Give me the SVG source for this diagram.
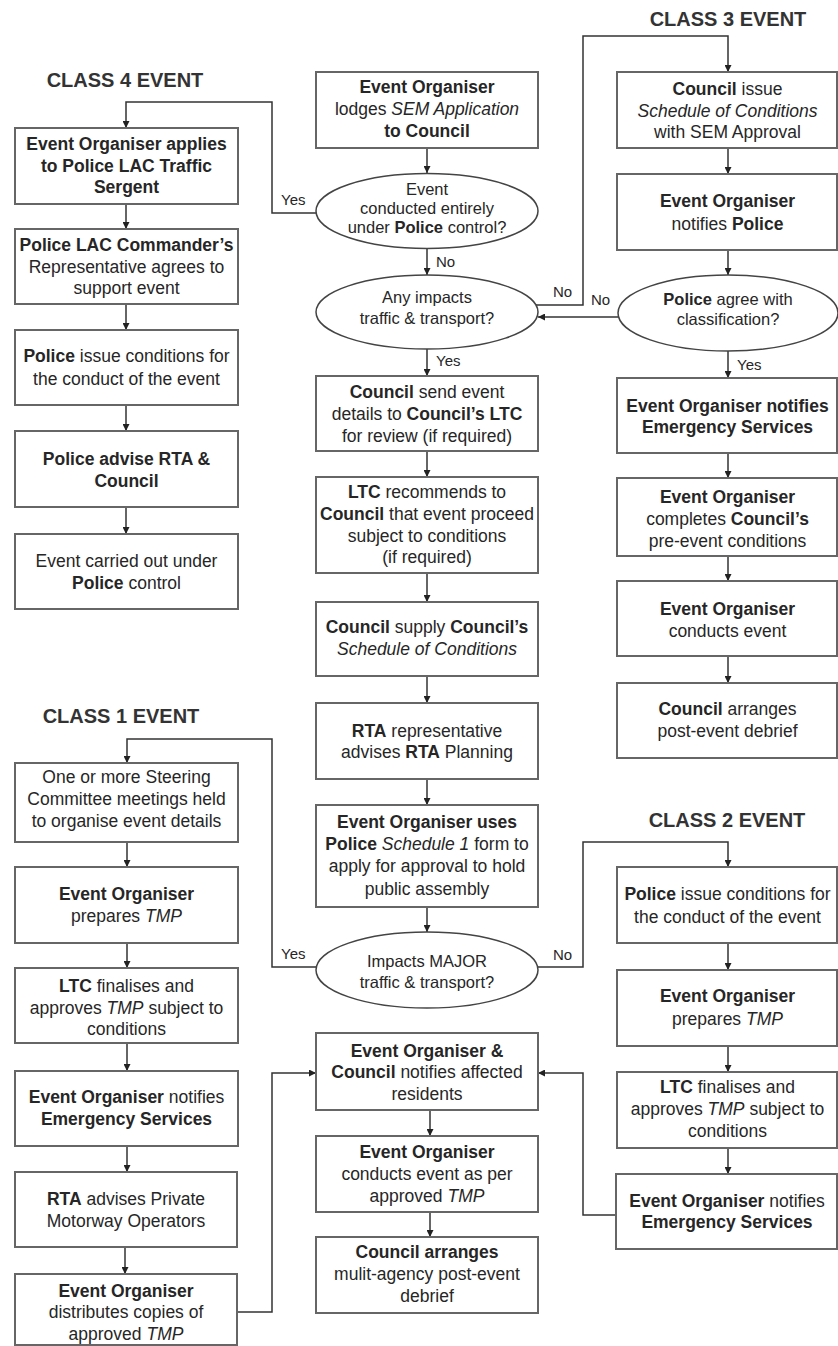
<svg xmlns="http://www.w3.org/2000/svg" width="838" height="1346" viewBox="0 0 838 1346">
<defs>
<marker id="arr" viewBox="0 0 10 10" refX="10" refY="5" markerWidth="8" markerHeight="7" markerUnits="userSpaceOnUse" orient="auto">
<path d="M0,0 L10,5 L0,10 z" fill="#222"/>
</marker>
<style>
.box{fill:#fff;stroke:#666;stroke-width:2}
.ell{fill:#fff;stroke:#444;stroke-width:1.5}
text{font-family:"Liberation Sans",Arial,sans-serif;fill:#262626}
.t{font-size:17.5px;text-anchor:middle}
.e{font-size:16.5px;text-anchor:middle}
.b{font-weight:bold}
.i{font-style:italic}
.lbl{font-size:15px}
.title{font-size:20px;font-weight:bold;text-anchor:middle;fill:#333}
.conn{fill:none;stroke:#333;stroke-width:1.5;marker-end:url(#arr)}
</style>
</defs>
<rect width="838" height="1346" fill="#fff"/>

<text class="title" x="125" y="87">CLASS 4 EVENT</text>
<text class="title" x="728" y="26">CLASS 3 EVENT</text>
<text class="title" x="121" y="723">CLASS 1 EVENT</text>
<text class="title" x="727" y="827">CLASS 2 EVENT</text>

<g id="connectors">
<path class="conn" d="M427,148 V173"/>
<path class="conn" d="M316,213 H272 V102 H126 V128"/>
<path class="conn" d="M427,248 V275"/>
<path class="conn" d="M536,305 H583 V36 H728 V72"/>
<path class="conn" d="M618,317 H538"/>
<path class="conn" d="M728,148 V174"/>
<path class="conn" d="M728,250 V275"/>
<path class="conn" d="M728,351 V378"/>
<path class="conn" d="M728,453 V478"/>
<path class="conn" d="M728,556 V581"/>
<path class="conn" d="M728,656 V683"/>
<path class="conn" d="M427,349 V376"/>
<path class="conn" d="M427,451 V477"/>
<path class="conn" d="M427,573 V602"/>
<path class="conn" d="M427,676 V703"/>
<path class="conn" d="M427,779 V805"/>
<path class="conn" d="M427,907 V932"/>
<path class="conn" d="M317,967 H272 V739 H127 V763"/>
<path class="conn" d="M537,967 H583 V842 H728 V867"/>
<path class="conn" d="M126,204 V229"/>
<path class="conn" d="M126,304 V330"/>
<path class="conn" d="M126,405 V431"/>
<path class="conn" d="M126,507 V534"/>
<path class="conn" d="M127,842 V867"/>
<path class="conn" d="M127,943 V968"/>
<path class="conn" d="M127,1043 V1071"/>
<path class="conn" d="M127,1146 V1172"/>
<path class="conn" d="M125,1247 V1274"/>
<path class="conn" d="M238,1312 H272 V1073 H316"/>
<path class="conn" d="M616,1215 H583 V1073 H538"/>
<path class="conn" d="M430,1110 V1136"/>
<path class="conn" d="M430,1212 V1237"/>
<path class="conn" d="M728,943 V970"/>
<path class="conn" d="M728,1046 V1072"/>
<path class="conn" d="M728,1148 V1174"/>
<text class="lbl" x="281" y="205">Yes</text>
<text class="lbl" x="436" y="267">No</text>
<text class="lbl" x="553" y="297">No</text>
<text class="lbl" x="591" y="305">No</text>
<text class="lbl" x="737" y="370">Yes</text>
<text class="lbl" x="436" y="366">Yes</text>
<text class="lbl" x="281" y="959">Yes</text>
<text class="lbl" x="553" y="960">No</text>
</g>

<!-- CLASS 4 -->
<g id="c4-apply"><rect class="box" x="15" y="128" width="223" height="76"/>
<text class="t b" x="126.5" y="150">Event Organiser applies</text>
<text class="t b" x="126.5" y="172">to Police LAC Traffic</text>
<text class="t b" x="126.5" y="193">Sergent</text></g>
<g id="c4-commander"><rect class="box" x="15" y="229" width="223" height="75"/>
<text class="t" x="126.5" y="251"><tspan class="b">Police LAC Commander’s</tspan></text>
<text class="t" x="126.5" y="273">Representative agrees to</text>
<text class="t" x="126.5" y="294">support event</text></g>
<g id="c4-conditions"><rect class="box" x="15" y="330" width="223" height="75"/>
<text class="t" x="126.5" y="362"><tspan class="b">Police</tspan> issue conditions for</text>
<text class="t" x="126.5" y="385">the conduct of the event</text></g>
<g id="c4-advise"><rect class="box" x="15" y="431" width="223" height="76"/>
<text class="t b" x="126.5" y="465">Police advise RTA &amp;</text>
<text class="t b" x="126.5" y="487">Council</text></g>
<g id="c4-carried"><rect class="box" x="15" y="534" width="223" height="75"/>
<text class="t" x="126.5" y="567">Event carried out under</text>
<text class="t" x="126.5" y="589"><tspan class="b">Police</tspan> control</text></g>

<!-- CENTRE -->
<g id="lodge"><rect class="box" x="316" y="72" width="222" height="76"/>
<text class="t b" x="427" y="93">Event Organiser</text>
<text class="t" x="427" y="115">lodges <tspan class="i">SEM Application</tspan></text>
<text class="t b" x="427" y="137">to Council</text></g>
<g id="q-police"><ellipse class="ell" cx="427" cy="211" rx="111" ry="37.5"/>
<text class="e" x="427" y="195">Event</text>
<text class="e" x="427" y="214">conducted entirely</text>
<text class="e" x="427" y="233">under <tspan class="b">Police</tspan> control?</text></g>
<g id="q-impacts"><ellipse class="ell" cx="427" cy="312" rx="111" ry="37"/>
<text class="e" x="427" y="303">Any impacts</text>
<text class="e" x="427" y="324">traffic &amp; transport?</text></g>
<g id="send-ltc"><rect class="box" x="316" y="376" width="222" height="75"/>
<text class="t" x="427" y="398"><tspan class="b">Council</tspan> send event</text>
<text class="t" x="427" y="420">details to <tspan class="b">Council’s LTC</tspan></text>
<text class="t" x="427" y="442">for review (if required)</text></g>
<g id="ltc-rec"><rect class="box" x="316" y="477" width="222" height="96"/>
<text class="t" x="427" y="498"><tspan class="b">LTC</tspan> recommends to</text>
<text class="t" x="427" y="520"><tspan class="b">Council</tspan> that event proceed</text>
<text class="t" x="427" y="542">subject to conditions</text>
<text class="t" x="427" y="563">(if required)</text></g>
<g id="supply"><rect class="box" x="316" y="602" width="222" height="74"/>
<text class="t" x="427" y="633"><tspan class="b">Council</tspan> supply <tspan class="b">Council’s</tspan></text>
<text class="t i" x="427" y="655">Schedule of Conditions</text></g>
<g id="rta-rep"><rect class="box" x="316" y="703" width="222" height="76"/>
<text class="t" x="427" y="737"><tspan class="b">RTA</tspan> representative</text>
<text class="t" x="427" y="758">advises <tspan class="b">RTA</tspan> Planning</text></g>
<g id="schedule1"><rect class="box" x="316" y="805" width="222" height="102"/>
<text class="t b" x="427" y="828">Event Organiser uses</text>
<text class="t" x="427" y="850"><tspan class="b">Police</tspan> <tspan class="i">Schedule 1</tspan> form to</text>
<text class="t" x="427" y="872">apply for approval to hold</text>
<text class="t" x="427" y="895">public assembly</text></g>
<g id="q-major"><ellipse class="ell" cx="427" cy="970" rx="111" ry="38"/>
<text class="e" x="427" y="967">Impacts MAJOR</text>
<text class="e" x="427" y="988">traffic &amp; transport?</text></g>
<g id="notify-res"><rect class="box" x="316" y="1033" width="222" height="77"/>
<text class="t b" x="427" y="1057">Event Organiser &amp;</text>
<text class="t" x="427" y="1078"><tspan class="b">Council</tspan> notifies affected</text>
<text class="t" x="427" y="1100">residents</text></g>
<g id="conduct-tmp"><rect class="box" x="316" y="1136" width="222" height="76"/>
<text class="t b" x="427" y="1158">Event Organiser</text>
<text class="t" x="427" y="1180">conducts event as per</text>
<text class="t" x="427" y="1202">approved <tspan class="i">TMP</tspan></text></g>
<g id="debrief-multi"><rect class="box" x="316" y="1237" width="222" height="76"/>
<text class="t b" x="427" y="1258">Council arranges</text>
<text class="t" x="427" y="1280">mulit-agency post-event</text>
<text class="t" x="427" y="1302">debrief</text></g>

<!-- CLASS 3 -->
<g id="c3-issue"><rect class="box" x="617" y="72" width="220" height="76"/>
<text class="t" x="727.5" y="95"><tspan class="b">Council</tspan> issue</text>
<text class="t i" x="727.5" y="117">Schedule of Conditions</text>
<text class="t" x="727.5" y="138">with SEM Approval</text></g>
<g id="c3-notify-police"><rect class="box" x="617" y="174" width="220" height="76"/>
<text class="t b" x="727.5" y="207">Event Organiser</text>
<text class="t" x="727.5" y="230">notifies <tspan class="b">Police</tspan></text></g>
<g id="q-class"><ellipse class="ell" cx="728" cy="313" rx="110" ry="38"/>
<text class="e" x="728" y="305"><tspan class="b">Police</tspan> agree with</text>
<text class="e" x="728" y="325">classification?</text></g>
<g id="c3-emergency"><rect class="box" x="617" y="378" width="220" height="75"/>
<text class="t b" x="727.5" y="412">Event Organiser notifies</text>
<text class="t b" x="727.5" y="433">Emergency Services</text></g>
<g id="c3-complete"><rect class="box" x="617" y="478" width="220" height="78"/>
<text class="t b" x="727.5" y="503">Event Organiser</text>
<text class="t" x="727.5" y="525">completes <tspan class="b">Council’s</tspan></text>
<text class="t" x="727.5" y="547">pre-event conditions</text></g>
<g id="c3-conduct"><rect class="box" x="617" y="581" width="220" height="75"/>
<text class="t b" x="727.5" y="615">Event Organiser</text>
<text class="t" x="727.5" y="637">conducts event</text></g>
<g id="c3-debrief"><rect class="box" x="617" y="683" width="220" height="75"/>
<text class="t" x="727.5" y="715"><tspan class="b">Council</tspan> arranges</text>
<text class="t" x="727.5" y="737">post-event debrief</text></g>

<!-- CLASS 1 -->
<g id="c1-steering"><rect class="box" x="15" y="763" width="223" height="79"/>
<text class="t" x="126.5" y="783">One or more Steering</text>
<text class="t" x="126.5" y="805">Committee meetings held</text>
<text class="t" x="126.5" y="827">to organise event details</text></g>
<g id="c1-tmp"><rect class="box" x="15" y="867" width="223" height="76"/>
<text class="t b" x="126.5" y="900">Event Organiser</text>
<text class="t" x="126.5" y="922">prepares <tspan class="i">TMP</tspan></text></g>
<g id="c1-ltc"><rect class="box" x="15" y="968" width="223" height="75"/>
<text class="t" x="126.5" y="992"><tspan class="b">LTC</tspan> finalises and</text>
<text class="t" x="126.5" y="1014">approves <tspan class="i">TMP</tspan> subject to</text>
<text class="t" x="126.5" y="1035">conditions</text></g>
<g id="c1-emergency"><rect class="box" x="15" y="1071" width="223" height="75"/>
<text class="t" x="126.5" y="1103"><tspan class="b">Event Organiser</tspan> notifies</text>
<text class="t b" x="126.5" y="1125">Emergency Services</text></g>
<g id="c1-rta"><rect class="box" x="15" y="1172" width="222" height="75"/>
<text class="t" x="126" y="1205"><tspan class="b">RTA</tspan> advises Private</text>
<text class="t" x="126" y="1227">Motorway Operators</text></g>
<g id="c1-distribute"><rect class="box" x="15" y="1274" width="222" height="71"/>
<text class="t b" x="126" y="1297">Event Organiser</text>
<text class="t" x="126" y="1318">distributes copies of</text>
<text class="t" x="126" y="1340">approved <tspan class="i">TMP</tspan></text></g>

<!-- CLASS 2 -->
<g id="c2-conditions"><rect class="box" x="617" y="867" width="220" height="76"/>
<text class="t" x="727.5" y="900"><tspan class="b">Police</tspan> issue conditions for</text>
<text class="t" x="727.5" y="923">the conduct of the event</text></g>
<g id="c2-tmp"><rect class="box" x="617" y="970" width="220" height="76"/>
<text class="t b" x="727.5" y="1002">Event Organiser</text>
<text class="t" x="727.5" y="1025">prepares <tspan class="i">TMP</tspan></text></g>
<g id="c2-ltc"><rect class="box" x="617" y="1072" width="220" height="76"/>
<text class="t" x="727.5" y="1093"><tspan class="b">LTC</tspan> finalises and</text>
<text class="t" x="727.5" y="1115">approves <tspan class="i">TMP</tspan> subject to</text>
<text class="t" x="727.5" y="1137">conditions</text></g>
<g id="c2-emergency"><rect class="box" x="616" y="1174" width="221" height="75"/>
<text class="t" x="727" y="1207"><tspan class="b">Event Organiser</tspan> notifies</text>
<text class="t b" x="727" y="1228">Emergency Services</text></g>
</svg>
